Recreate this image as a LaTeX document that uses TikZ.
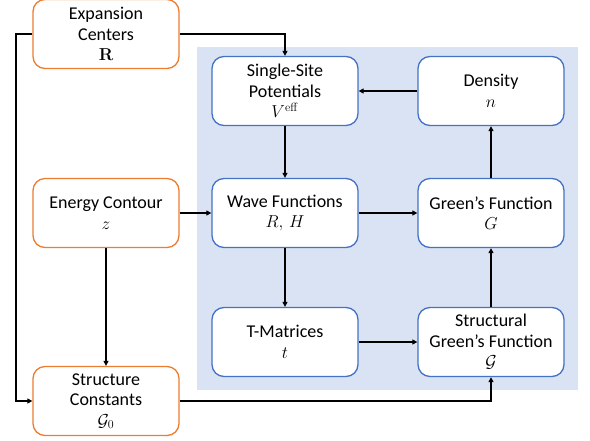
\documentclass[tikz,border=0pt]{standalone}
\usepackage[no-math]{fontspec}
\setmainfont{Carlito}
\usetikzlibrary{arrows.meta}
\definecolor{borange}{RGB}{237,125,49}
\definecolor{bblue}{RGB}{68,114,196}
\definecolor{bgblue}{RGB}{218,227,243}
\tikzset{
  box/.style={draw, rounded corners=12pt, line width=1.3pt, fill=white,
    minimum width=146pt, minimum height=69pt, align=center,
    font=\fontsize{18}{20.5}\selectfont, inner sep=1pt},
  obox/.style={box, draw=borange},
  bbox/.style={box, draw=bblue},
  conn/.style={line width=1.6pt, -{Triangle[length=5pt,width=5pt]}}
}
\begin{document}
\begin{tikzpicture}[x=1pt,y=-1pt]
\useasboundingbox (0,0) rectangle (590,440);
\fill[bgblue] (197,47) rectangle (578,390);
\node[obox] (exp) at (106,34) {Expansion\\Centers\\$\mathbf{R}$};
\node[bbox] (ss) at (285,91) {Single-Site\\Potentials\\$V^{\mathrm{eff}}$};
\node[bbox] (den) at (491,91) {Density\\$n$};
\node[obox] (ec) at (106,213) {Energy Contour\\$z$};
\node[bbox] (wf) at (285,213) {Wave Functions\\$R,\,H$};
\node[bbox] (gf) at (491,213) {Green’s Function\\$G$};
\node[bbox] (tm) at (285,342) {T-Matrices\\$t$};
\node[bbox] (sg) at (491,342) {Structural\\Green’s Function\\$\mathcal{G}$};
\node[obox] (sc) at (106,401) {Structure\\Constants\\$\mathcal{G}_0$};
\coordinate (lc) at (16,34);
\draw[conn] (exp.west) -- (lc) |- (sc.west);
\draw[conn] (exp.east) -| (ss.north);
\draw[conn] (ec.east) -- (wf.west);
\draw[conn] (ec.south) -- (sc.north);
\draw[conn] (sc.east) -| (sg.south);
\draw[conn] (ss.south) -- (wf.north);
\draw[conn] (wf.south) -- (tm.north);
\draw[conn] (wf.east) -- (gf.west);
\draw[conn] (tm.east) -- (sg.west);
\draw[conn] (sg.north) -- (gf.south);
\draw[conn] (gf.north) -- (den.south);
\draw[conn] (den.west) -- (ss.east);
\end{tikzpicture}
\end{document}
